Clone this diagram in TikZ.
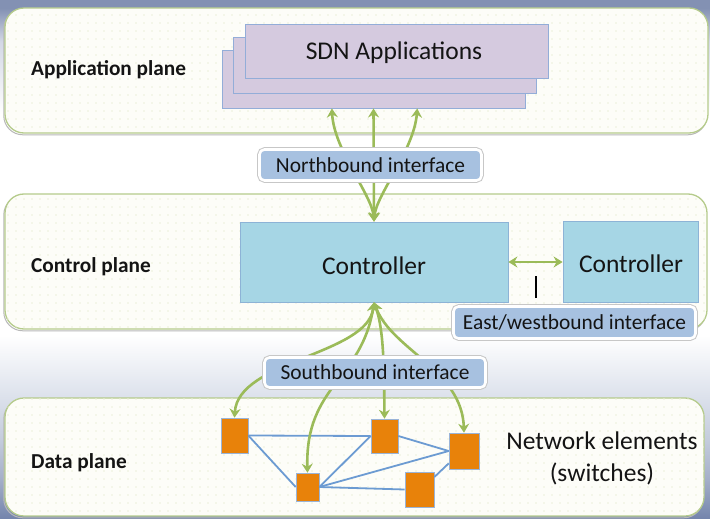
\documentclass[tikz,border=0pt]{standalone}
\usepackage{fontspec}
\setmainfont{Carlito}
\usetikzlibrary{arrows.meta,patterns.meta,calc}
\definecolor{bgtop}{HTML}{8391B3}
\definecolor{bgc4}{HTML}{D3D8E5}
\definecolor{bgc3}{HTML}{DDE2EC}
\definecolor{bgc2}{HTML}{C4CCDC}
\definecolor{bgc1}{HTML}{A4AFC9}
\definecolor{bgbot}{HTML}{7384AC}
\definecolor{planefill}{HTML}{FDFDF8}
\definecolor{planeborder}{HTML}{B5CB8B}
\definecolor{dotcol}{HTML}{EBEFDA}
\definecolor{appfill}{HTML}{D5CADF}
\definecolor{appborder}{HTML}{93ADD8}
\definecolor{ctrlfill}{HTML}{A6D6E5}
\definecolor{ctrlborder}{HTML}{8DB3D6}
\definecolor{ifblue}{HTML}{A7C1E0}
\definecolor{garrow}{HTML}{9BBB59}
\definecolor{swfill}{HTML}{E8820A}
\definecolor{swborder}{HTML}{9AB4D8}
\definecolor{blink}{HTML}{6C9BD2}
\definecolor{txt}{HTML}{141414}
\pgfdeclareverticalshading{bgshade}{100bp}{color(0bp)=(bgbot); color(25bp)=(bgbot); color(28.8bp)=(bgc1); color(32.6bp)=(bgc2); color(36.9bp)=(bgc3); color(42.7bp)=(white); color(64bp)=(white); color(71bp)=(bgc4); color(74.2bp)=(bgtop); color(100bp)=(bgtop)}
\tikzset{
  plane/.style={rounded corners=19pt, draw=planeborder, line width=1.3pt, fill=planefill,
    preaction={draw=black!28, line width=1pt, transform canvas={xshift=-1.2pt,yshift=-1.8pt}},
    postaction={pattern={Dots[distance=8pt,radius=0.9pt]}, pattern color=dotcol}},
  plabel/.style={inner sep=0pt, text=txt, font=\fontsize{21.3}{24}\selectfont\bfseries},
  appbox/.style={draw=appborder, fill=appfill, line width=0.9pt, inner sep=0pt, text=txt},
  ctrlbox/.style={draw=ctrlborder, fill=ctrlfill, line width=0.8pt, inner sep=0pt, text=txt, font=\fontsize{25}{30}\selectfont},
  ifbox/.style={fill=ifblue, draw=white, line width=2.6pt, rounded corners=5pt, inner sep=0pt, text=txt,
    font=\fontsize{21.4}{25}\selectfont, preaction={draw=black!22, line width=4.6pt}},
  switch/.style={fill=swfill, draw=swborder, line width=0.6pt, inner sep=0pt},
  gline/.style={draw=garrow, line width=2.6pt},
  blue link/.style={draw=blink, line width=1.8pt},
  bigtext/.style={font=\fontsize{25.5}{32}\selectfont, text=txt}
}
\begin{document}
\begin{tikzpicture}[x=1pt,y=-1pt, >={Stealth[length=9pt,width=11pt,inset=3pt]}]
\useasboundingbox (0,0) rectangle (710,519);
\shade[shading=bgshade] (0,0) rectangle (710,519);

% planes
\path[plane] (5,8) rectangle (708,133);
\path[plane] (5,194) rectangle (707,329);
\path[plane] (5,398) rectangle (704,516);

% plane labels
\node[plabel, anchor=west] (lapp) at (31,70) {Application plane};
\node[plabel, anchor=west] (lctl) at (31,267) {Control plane};
\node[plabel, anchor=west] (ldat) at (31,463) {Data plane};

% application boxes
\node[appbox, minimum width=303pt, minimum height=58pt] (app3) at (373.5,79) {};
\node[appbox, minimum width=303pt, minimum height=56pt] (app2) at (384.5,65) {};
\node[appbox, minimum width=303pt, minimum height=54pt] (app1) at (396.5,51) {};
\node[bigtext] (app1text) at (394,53) {SDN Applications};

% controllers
\node[ctrlbox, minimum width=268pt, minimum height=80pt] (ctrlA) at (374,262) {};
\node[bigtext] (ctrlAtext) at (374,266) {Controller};
\node[ctrlbox, minimum width=135pt, minimum height=81pt] (ctrlB) at (630.5,261.5) {};
\node[bigtext] (ctrlBtext) at (631,264) {Controller};

% switches
\node[switch, minimum width=27pt, minimum height=35pt] (s1) at (234.5,435.5) {};
\node[switch, minimum width=23pt, minimum height=28pt] (s2) at (307.5,487) {};
\node[switch, minimum width=27pt, minimum height=34pt] (s3) at (384.5,436) {};
\node[switch, minimum width=30pt, minimum height=36pt] (s4) at (464,451) {};
\node[switch, minimum width=29pt, minimum height=35pt] (s5) at (419.5,489.5) {};

% links between switches
\draw[blue link] (s1.east) -- (s3.west);
\draw[blue link] (s1.east) -- (s2.west);
\draw[blue link] (s2.east) -- (s3.west);
\draw[blue link] (s3.east) -- (s4.west);
\draw[blue link] (s2.east) -- (s4.west);
\draw[blue link] (s2.east) -- (s5.west);
\draw[blue link] (s5.40) -- (s4.219);

% northbound arrows
\draw[gline,<->] (ctrlA.north) .. controls (372,195) and (334,150) .. ($(app3.south west)!0.363!(app3.south east)$);
\draw[gline,<->] (ctrlA.north) -- (app3.south);
\draw[gline,<->] (ctrlA.north) .. controls (376,195) and (414,150) .. ($(app3.south west)!0.644!(app3.south east)$);

% southbound arrows
\draw[gline,<->] (ctrlA.south) .. controls (368,355) and (238,360) .. (s1.north);
\draw[gline,<->] (ctrlA.south) .. controls (362,380) and (305,385) .. (s2.north);
\draw[gline,<->] (ctrlA.south) .. controls (384,330) and (384,370) .. (s3.north);
\draw[gline,<->] (ctrlA.south) .. controls (392,350) and (462,370) .. (s4.north);

% east/west arrow
\draw[gline,<->] (ctrlA.east) -- (ctrlB.west |- ctrlA.east);

% interface boxes
\node[ifbox, minimum width=222pt, minimum height=31pt] (nb) at (370.5,165) {Northbound interface};
\node[ifbox, minimum width=242pt, minimum height=32pt] (ew) at (574.5,322.5) {East/westbound interface};
\node[ifbox, minimum width=221pt, minimum height=30pt] (sb) at (375,372.5) {Southbound interface};

% leader line
\coordinate (lt) at (536,276);
\coordinate (lb) at (536,298);
\draw[line width=1.6pt, black] (lb) -- (lt);

% network elements label
\node[bigtext, align=center] (netel) at (602,458) {Network elements\\(switches)};
\end{tikzpicture}
\end{document}
